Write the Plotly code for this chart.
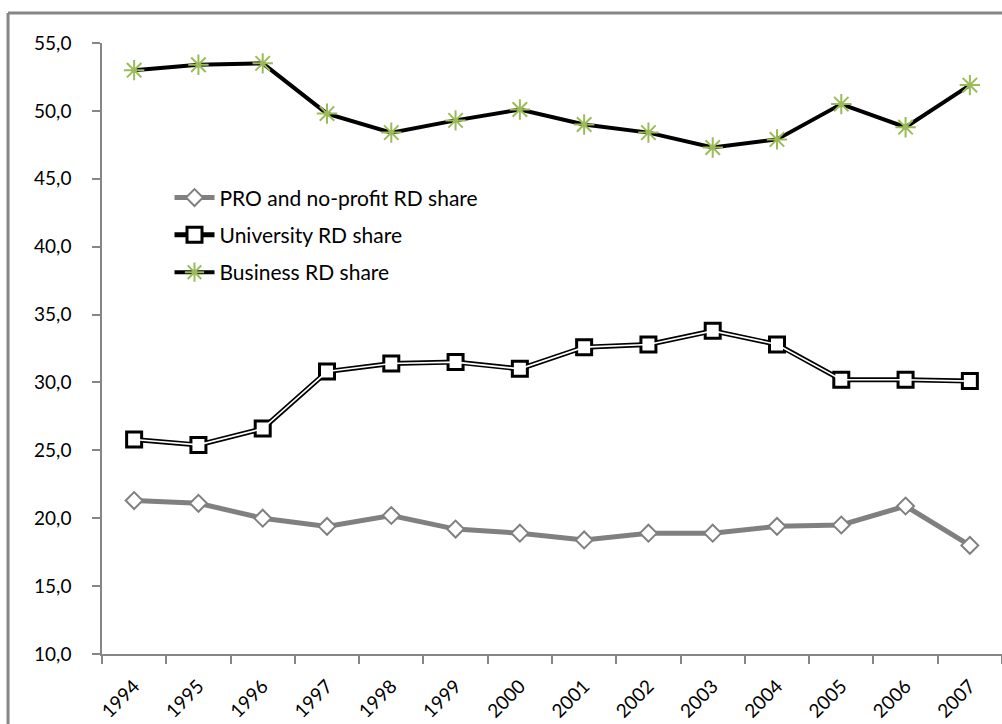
import plotly.graph_objects as go

years = ["1994", "1995", "1996", "1997", "1998", "1999", "2000",
         "2001", "2002", "2003", "2004", "2005", "2006", "2007"]

pro_share = [21.3, 21.1, 20.0, 19.4, 20.2, 19.2, 18.9,
             18.4, 18.9, 18.9, 19.4, 19.5, 20.9, 18.0]
university_share = [25.8, 25.4, 26.6, 30.8, 31.4, 31.5, 31.0,
                    32.6, 32.8, 33.8, 32.8, 30.2, 30.2, 30.1]
business_share = [53.0, 53.4, 53.5, 49.8, 48.4, 49.3, 50.1,
                  49.0, 48.4, 47.3, 47.9, 50.5, 48.8, 51.9]

y_ticks = [10, 15, 20, 25, 30, 35, 40, 45, 50, 55]
y_tick_text = [f"{v:.1f}".replace(".", ",") for v in y_ticks]

FONT = "Lato, 'Open Sans', sans-serif"
AXIS_GREY = "#868686"
STAR_GREEN = "#9BBB59"

fig = go.Figure()

# PRO and no-profit: thick grey line, white diamonds
fig.add_trace(go.Scatter(
    x=years, y=pro_share, name="PRO and no-profit RD share",
    mode="lines+markers", legendgroup="pro",
    line=dict(color="#808080", width=5),
    marker=dict(symbol="diamond", size=13, color="white",
                line=dict(color="#808080", width=2)),
))

# University: double line (black outline with white core), open squares
fig.add_trace(go.Scatter(
    x=years, y=university_share, name="University RD share",
    mode="lines+markers", legendgroup="uni",
    line=dict(color="black", width=5),
    marker=dict(symbol="square", size=15, color="white",
                line=dict(color="black", width=3)),
))
fig.add_trace(go.Scatter(
    x=years, y=university_share, name="University RD share",
    mode="lines", legendgroup="uni", showlegend=False,
    line=dict(color="white", width=1.6), hoverinfo="skip",
))

# Business: black line, green asterisk markers
fig.add_trace(go.Scatter(
    x=years, y=business_share, name="Business RD share",
    mode="lines+markers", legendgroup="bus",
    line=dict(color="black", width=4),
    marker=dict(symbol="asterisk-open", size=17, color=STAR_GREEN,
                line=dict(color=STAR_GREEN, width=2)),
))

# outer chart frame (top and left edges)
frame = dict(type="line", xref="paper", yref="paper",
             line=dict(color=AXIS_GREY, width=3))
fig.add_shape(**frame, x0=-0.1044, x1=1.02, y0=1.0491, y1=1.0491)
fig.add_shape(**frame, x0=-0.1044, x1=-0.1044, y0=1.0491, y1=-0.15)

fig.update_layout(
    width=1002, height=724,
    margin=dict(l=102, r=0, t=43, b=70),
    paper_bgcolor="white", plot_bgcolor="white",
    font=dict(family=FONT, size=19, color="black"),
    showlegend=True,
    legend=dict(x=0.075, y=0.78, xanchor="left", yanchor="top",
                traceorder="grouped", tracegroupgap=7,
                bgcolor="rgba(0,0,0,0)", font=dict(size=21),
                itemwidth=40),
)

fig.update_xaxes(
    type="category", range=[-0.5, 13.5],
    showline=True, linecolor=AXIS_GREY, linewidth=1.5,
    showgrid=False, zeroline=False,
    ticks="outside", tickson="boundaries", ticklen=8,
    tickcolor=AXIS_GREY, tickwidth=1.5,
    tickangle=-45, tickfont=dict(family=FONT, size=19),
    ticklabelstandoff=12,
)
fig.update_yaxes(
    range=[10, 55], tickvals=y_ticks, ticktext=y_tick_text,
    showline=True, linecolor=AXIS_GREY, linewidth=1.5,
    showgrid=False, zeroline=False,
    ticks="outside", ticklen=8, tickcolor=AXIS_GREY, tickwidth=1.5,
    tickfont=dict(family=FONT, size=19),
    ticklabelstandoff=17,
)

fig.write_html("out.html")
